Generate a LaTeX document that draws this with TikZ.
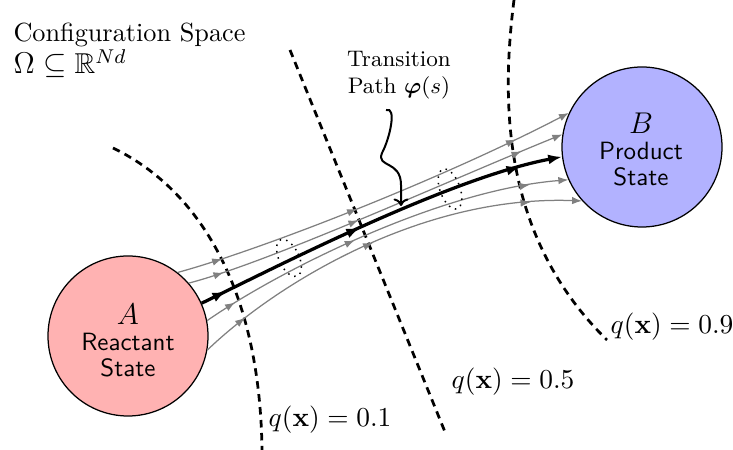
\documentclass[tikz,border=0pt]{standalone}
\usepackage{amsmath,amssymb,bm}
\usetikzlibrary{arrows.meta,decorations.markings}
\begin{document}
\begin{tikzpicture}[x={(0.4pt,0pt)},y={(0pt,-0.4pt)},
  state/.style={circle,draw=black,line width=0.5pt,minimum size=64pt,inner sep=0pt},
  statetext/.style={align=center,inner sep=0pt,font=\fontsize{10}{10.4}\selectfont\sffamily},
  iso/.style={line width=1.1pt,dash pattern=on 3pt off 2.2pt},
  isolabel/.style={inner sep=0pt,font=\fontsize{11}{13}\selectfont},
  gtip/.tip={Latex[length=4pt,width=3pt]},
  btip/.tip={Latex[length=5.5pt,width=4pt]},
  traj/.style n args={3}{draw=gray,line width=0.5pt,-gtip,postaction={decorate,decoration={markings,
     mark=at position #1 with {\arrow[gray]{gtip}},
     mark=at position #2 with {\arrow[gray]{gtip}},
     mark=at position #3 with {\arrow[gray]{gtip}}}}},
  mainpath/.style n args={3}{draw=black,line width=1.3pt,-btip,postaction={decorate,decoration={markings,
     mark=at position #1 with {\arrow{btip}},
     mark=at position #2 with {\arrow{btip}},
     mark=at position #3 with {\arrow{btip}}}}},
  ring/.style={dotted,line width=0.6pt},
  squig/.style={line width=0.8pt,-{To[length=3pt,width=6pt]}}
]
\useasboundingbox (0,0) rectangle (733,450);

% isocommittor surfaces
\draw[iso] (113,148) .. controls (200,190) and (260,290) .. (262,450);
\draw[iso] (290,50) -- (445,432);
\draw[iso] (514,0) .. controls (500,110) and (505,240) .. (607,340);

% states
\node[state,fill=red!30] (A) at (128,336) {};
\node[state,fill=blue!30] (B) at (642,147) {};
\node[statetext] (Alab) at (128,341) {\fontsize{13}{12}\selectfont$A$\\Reactant\\State};
\node[statetext] (Blab) at (641,150) {\fontsize{13}{12}\selectfont$B$\\Product\\State};

% trajectories
\draw[traj={0.11}{0.45}{0.86}] (A.52) .. controls (260,250) and (440,180) .. (B.155.6);
\draw[traj={0.09}{0.45}{0.89}] (A.41.5) .. controls (270,262) and (450,180) .. (B.171.5);
\draw[traj={0.085}{0.43}{0.9}] (A.11.5) .. controls (280,270) and (440,190) .. (B.204.4);
\draw[traj={0.12}{0.48}{0.875}] (A.-10) .. controls (275,285) and (420,195) .. (B.222.5);
\draw[mainpath={0.07}{0.45}{0.89}] (A.24) .. controls (280,265) and (450,178) .. (B.187);

% tube cross-sections
\draw[ring,rotate around={25:(289,258)}] (289,258) ellipse [x radius=10,y radius=20];
\draw[ring,rotate around={20:(450,189)}] (450,189) ellipse [x radius=10,y radius=21];

% labels
\node[anchor=base west,inner sep=0pt,font=\fontsize{10.5}{12}\selectfont] (cfg) at (13,42) {Configuration Space};
\node[anchor=base west,inner sep=0pt,font=\fontsize{11.5}{12}\selectfont] (om) at (13,74) {$\Omega\subseteq\mathbb{R}^{Nd}$};
\node[align=center,inner sep=0pt,font=\small] (tp) at (399,75) {Transition\\Path $\boldsymbol{\varphi}(s)$};
\coordinate (sq) at (386,110);
\coordinate (phi) at (401,206);
\draw[squig] (sq) .. controls (397,106) and (390,138) .. (382,153) .. controls (376,168) and (401,160) .. (401,185) -- (phi);

\node[isolabel] (q1) at (330,420) {$q(\mathbf{x})=0.1$};
\node[isolabel] (q5) at (513,382) {$q(\mathbf{x})=0.5$};
\node[isolabel] (q9) at (672,327) {$q(\mathbf{x})=0.9$};
\end{tikzpicture}
\end{document}
